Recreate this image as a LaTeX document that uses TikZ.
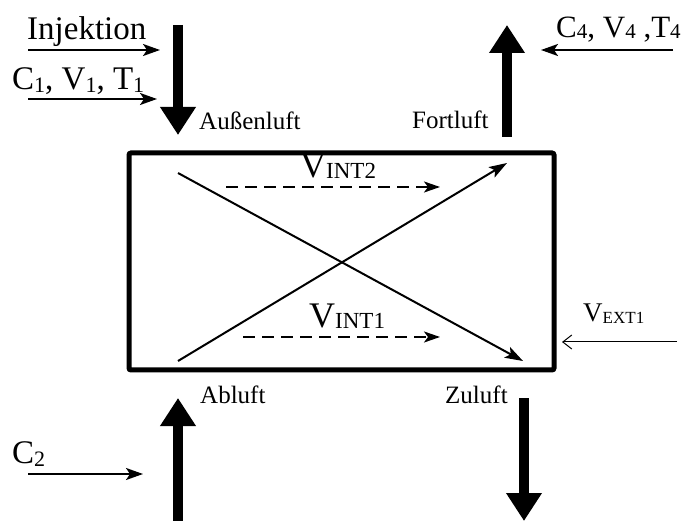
\documentclass[tikz,border=0pt]{standalone}
\usepackage{fontspec}
\setmainfont{Liberation Serif}
\usetikzlibrary{arrows.meta}

\tikzset{
  bigtext/.style={font=\fontsize{33}{38}\selectfont, inner sep=0pt},
  smalltext/.style={font=\fontsize{25}{30}\selectfont, inner sep=0pt},
  flow/.style={line width=10pt, -{Triangle[width=34pt,length=28pt]}},
  feed/.style={line width=2pt, -{Stealth[length=17pt,width=12pt,inset=4pt]}},
  mix/.style={line width=2pt, -{Stealth[length=18pt,width=12pt,inset=4pt]}},
  leak/.style={line width=2pt, dash pattern=on 12pt off 7pt, -{Stealth[length=16pt,width=11pt,inset=4pt]}},
  roombox/.style={draw, line width=5pt, rounded corners=2pt, minimum width=425pt, minimum height=217pt, inner sep=0pt}
}

% Index: [Absenkung]{Groesse}{Text}
\newcommand{\subsc}[3][3pt]{\raisebox{-#1}{\fontsize{#2}{#2}\selectfont #3}}

\begin{document}
\begin{tikzpicture}[x=1pt, y=-1pt]
  \useasboundingbox (0,0) rectangle (691,521);

  % Raum
  \node[roombox] (room) at (341.5,261.5) {};

  % Punkte fuer die Pfeile
  \coordinate (injS) at (28,50);    \coordinate (injE) at (160,50);
  \coordinate (inS) at (28,99);     \coordinate (inE) at (157,99);
  \coordinate (aulS) at (178,25);   \coordinate (aulE) at (178,135);
  \coordinate (folS) at (507,137);  \coordinate (folE) at (507,25);
  \coordinate (outS) at (673,50);   \coordinate (outE) at (541,50);
  \coordinate (ablS) at (178,521);  \coordinate (ablE) at (178,398);
  \coordinate (zulS) at (524,398);  \coordinate (zulE) at (524,521);
  \coordinate (exS) at (677,342);   \coordinate (exE) at (562,342);
  \coordinate (c2S) at (28,474);    \coordinate (c2E) at (143,474);
  \coordinate (dnwS) at (178,173);  \coordinate (dnwE) at (523,361);
  \coordinate (upwS) at (178,361);  \coordinate (upwE) at (507,163);
  \coordinate (i2S) at (226,187);   \coordinate (i2E) at (440,187);
  \coordinate (i1S) at (243,337);   \coordinate (i1E) at (440,337);

  % Beschriftungen
  \node[bigtext, anchor=base west] (injtxt) at (27,40) {Injektion};
  \node[bigtext, anchor=base west] (c1txt) at (12,90)
    {C\subsc{22}{1}, V\subsc{22}{1}, T\subsc{22}{1}};
  \node[bigtext, font=\fontsize{31}{36}\selectfont, anchor=base west] (c4txt) at (556,38)
    {C\subsc[1pt]{21}{4}, V\subsc[1pt]{21}{4} ,T\subsc[1pt]{21}{4}};
  \node[bigtext, anchor=base west] (c2txt) at (12,463) {C\subsc{22}{2}};
  \node[smalltext, anchor=base west] (aussen) at (199,130) {Außenluft};
  \node[smalltext, anchor=base west] (fort) at (412,129) {Fortluft};
  \node[smalltext, anchor=base west] (abl) at (200,403) {Abluft};
  \node[smalltext, anchor=base west] (zul) at (445,403) {Zuluft};
  \node[bigtext, font=\fontsize{36}{40}\selectfont, anchor=base west] (vint2) at (300,178)
    {V\subsc[1pt]{23}{INT2}};
  \node[bigtext, font=\fontsize{36}{40}\selectfont, anchor=base west] (vint1) at (309,328)
    {V\subsc[1pt]{23}{INT1}};
  \node[bigtext, font=\fontsize{27}{30}\selectfont, anchor=base west] (vext1) at (583,322)
    {V\subsc[2pt]{17}{EXT1}};

  % Luftstroeme
  \draw[flow] (aulS) -- (aulE);
  \draw[flow] (folS) -- (folE);
  \draw[flow] (ablS) -- (ablE);
  \draw[flow] (zulS) -- (zulE);

  % Zufuhr
  \draw[feed] (injS) -- (injE);
  \draw[feed] (inS) -- (inE);
  \draw[feed] (outS) -- (outE);
  \draw[feed] (c2S) -- (c2E);
  \draw[line width=1pt, -{Straight Barb[length=9pt,width=14pt]}] (exS) -- (exE);

  % Waermetauscher
  \draw[mix] (dnwS) -- (dnwE);
  \draw[mix] (upwS) -- (upwE);
  \draw[leak] (i2S) -- (i2E);
  \draw[leak] (i1S) -- (i1E);
\end{tikzpicture}
\end{document}
